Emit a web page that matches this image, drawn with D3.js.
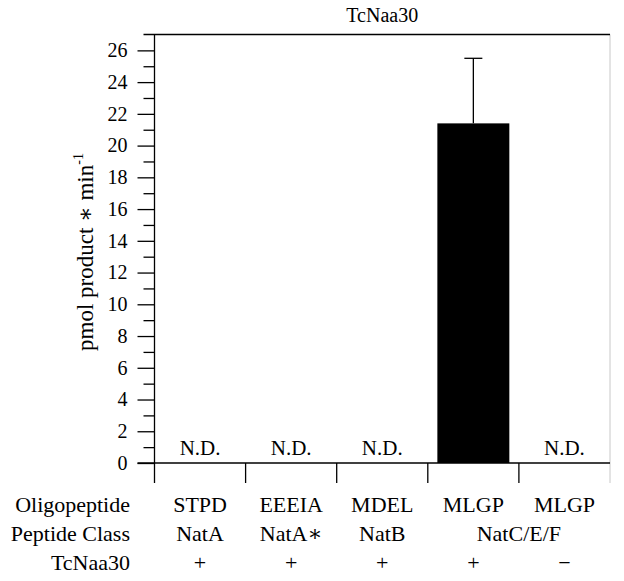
<!DOCTYPE html>
<html>
<head>
<meta charset="utf-8">
<script src="https://cdn.jsdelivr.net/npm/d3@7"></script>
<style>
  body { margin: 0; background: #fff; }
</style>
</head>
<body>
<svg id="chart" width="624" height="581"></svg>
<script>
// data
const oligopeptides = ["STPD", "EEEIA", "MDEL", "MLGP", "MLGP"];
const peptideClasses = ["NatA", "NatA\u2217", "NatB", "NatC/E/F"];
const enzymeSigns = ["+", "+", "+", "+", "\u2212"];
const activity = [null, null, null, 21.4, null];   // null = N.D.
const activityErr = [0, 0, 0, 4.1, 0];
const rowLabels = ["Oligopeptide", "Peptide Class", "TcNaa30"];
const yMajorTicks = d3.range(0, 27, 2);
const yMinorTicks = d3.range(1, 27, 2);

const FONT = "'Liberation Serif', 'DejaVu Serif', serif";
const svg = d3.select("#chart");
const cats = d3.range(oligopeptides.length);

const x = d3.scaleBand()
    .domain(cats)
    .range([154.5, 610])
    .paddingInner(0.21)
    .paddingOuter(0.105);

const y = d3.scaleLinear()
    .domain([0, 27])
    .range([463, 34.5]);

const step = x.step();
const x0 = x.range()[0];
const xEnd = x.range()[1];
const sepBottom = 483;
const center = i => x(i) + x.bandwidth() / 2;

// title
svg.append("text")
    .attr("x", (x0 + xEnd) / 2)
    .attr("y", 22)
    .attr("text-anchor", "middle")
    .style("font-family", FONT)
    .style("font-size", "20px")
    .text("TcNaa30");

// right border (light)
svg.append("line")
    .attr("x1", xEnd).attr("x2", xEnd)
    .attr("y1", y(27)).attr("y2", sepBottom)
    .attr("stroke", "#c8c8c8").attr("stroke-width", 1);

// top frame
svg.append("line")
    .attr("x1", x0 - 11).attr("x2", xEnd)
    .attr("y1", y(27)).attr("y2", y(27))
    .attr("stroke", "#000").attr("stroke-width", 1.3);

// bars
svg.selectAll("rect.bar")
    .data(cats.filter(i => activity[i] != null))
    .join("rect")
    .attr("class", "bar")
    .attr("x", i => x(i))
    .attr("width", x.bandwidth())
    .attr("y", i => y(activity[i]))
    .attr("height", i => y(0) - y(activity[i]))
    .attr("fill", "#000");

// error bars (upper whisker only)
const errG = svg.selectAll("g.err")
    .data(cats.filter(i => activity[i] != null && activityErr[i] > 0))
    .join("g")
    .attr("class", "err");
errG.append("line")
    .attr("x1", center).attr("x2", center)
    .attr("y1", i => y(activity[i]))
    .attr("y2", i => y(activity[i] + activityErr[i]))
    .attr("stroke", "#000").attr("stroke-width", 1.3);
errG.append("line")
    .attr("x1", i => center(i) - 9)
    .attr("x2", i => center(i) + 9)
    .attr("y1", i => y(activity[i] + activityErr[i]))
    .attr("y2", i => y(activity[i] + activityErr[i]))
    .attr("stroke", "#000").attr("stroke-width", 1.3);

// N.D. labels
svg.selectAll("text.nd")
    .data(cats.filter(i => activity[i] == null))
    .join("text")
    .attr("class", "nd")
    .attr("x", center)
    .attr("y", y(0) - 8)
    .attr("text-anchor", "middle")
    .style("font-family", FONT)
    .style("font-size", "21px")
    .text("N.D.");

// y axis with major + minor ticks
const gy = svg.append("g")
    .attr("transform", `translate(${x0},0)`)
    .call(d3.axisLeft(y)
        .tickValues(yMajorTicks)
        .tickSize(17)
        .tickPadding(10)
        .tickFormat(d3.format("d")));
gy.attr("font-family", FONT).attr("font-size", 20);
gy.select(".domain").remove();
gy.selectAll(".tick line").attr("stroke-width", 1.3);

const gyMinor = svg.append("g")
    .attr("transform", `translate(${x0},0)`)
    .call(d3.axisLeft(y).tickValues(yMinorTicks).tickSize(11).tickFormat(""));
gyMinor.select(".domain").remove();
gyMinor.selectAll(".tick line").attr("stroke-width", 1.3);

// y axis line, running past zero down to the category separators
svg.append("line")
    .attr("x1", x0).attr("x2", x0)
    .attr("y1", y(27)).attr("y2", sepBottom)
    .attr("stroke", "#000").attr("stroke-width", 1.3);

// zero line
svg.append("line")
    .attr("x1", x0 - 17).attr("x2", xEnd)
    .attr("y1", y(0)).attr("y2", y(0))
    .attr("stroke", "#000").attr("stroke-width", 1.3);

// category separators below the zero line
svg.selectAll("line.sep")
    .data(d3.range(1, cats.length))
    .join("line")
    .attr("class", "sep")
    .attr("x1", i => x0 + i * step)
    .attr("x2", i => x0 + i * step)
    .attr("y1", y(0))
    .attr("y2", sepBottom)
    .attr("stroke", "#000").attr("stroke-width", 1.3);

// y axis title
const yTitle = svg.append("text")
    .attr("transform", "translate(93,252) rotate(-90)")
    .attr("text-anchor", "middle")
    .style("font-family", FONT)
    .style("font-size", "23px");
yTitle.append("tspan").text("pmol product \u2217 min");
yTitle.append("tspan").attr("dy", -10).style("font-size", "14px").text("-1");

// table rows under the axis
const rowY = [512, 541, 570];
const labelX = 130;
const tableSize = "22px";

svg.selectAll("text.rowlab")
    .data(rowLabels)
    .join("text")
    .attr("class", "rowlab")
    .attr("x", labelX)
    .attr("y", (d, i) => rowY[i])
    .attr("text-anchor", "end")
    .style("font-family", FONT)
    .style("font-size", tableSize)
    .text(d => d);

svg.selectAll("text.olig")
    .data(oligopeptides)
    .join("text")
    .attr("class", "olig")
    .attr("x", (d, i) => center(i))
    .attr("y", rowY[0])
    .attr("text-anchor", "middle")
    .style("font-family", FONT)
    .style("font-size", tableSize)
    .text(d => d);

// last class label spans the last two columns
svg.selectAll("text.cls")
    .data(peptideClasses)
    .join("text")
    .attr("class", "cls")
    .attr("x", (d, i) => i < 3 ? center(i) : (center(3) + center(4)) / 2)
    .attr("y", rowY[1])
    .attr("text-anchor", "middle")
    .style("font-family", FONT)
    .style("font-size", tableSize)
    .text(d => d);

svg.selectAll("text.sign")
    .data(enzymeSigns)
    .join("text")
    .attr("class", "sign")
    .attr("x", (d, i) => center(i))
    .attr("y", rowY[2])
    .attr("text-anchor", "middle")
    .style("font-family", FONT)
    .style("font-size", tableSize)
    .text(d => d);
</script>
</body>
</html>
